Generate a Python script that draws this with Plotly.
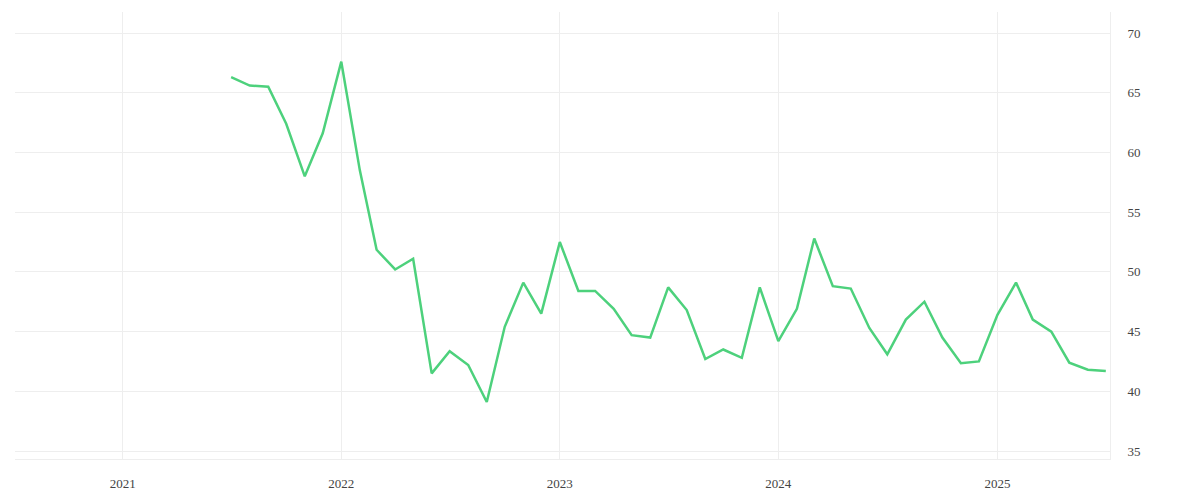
import plotly.graph_objects as go
import pandas as pd

dates = pd.date_range("2021-07-01", "2025-07-01", freq="MS").strftime("%Y-%m-%d").tolist()
values = [
    66.3, 65.6, 65.5, 62.4, 58.0, 61.6,
    67.6, 58.5, 51.85, 50.2, 51.1, 41.5, 43.35, 42.2, 39.1, 45.4, 49.1, 46.5,
    52.5, 48.4, 48.4, 46.9, 44.7, 44.5, 48.7, 46.8, 42.7, 43.5, 42.8, 48.7,
    44.2, 46.9, 52.8, 48.8, 48.6, 45.3, 43.1, 46.0, 47.5, 44.5, 42.35, 42.5,
    46.4, 49.1, 46.0, 45.0, 42.4, 41.8, 41.7,
]
x_range = ["2020-07-05", "2025-07-08"]
y_range = [34.33, 71.76]
y_ticks = [35, 40, 45, 50, 55, 60, 65, 70]
x_ticks = ["2021-01-01", "2022-01-01", "2023-01-01", "2024-01-01", "2025-01-01"]
x_tick_labels = ["2021", "2022", "2023", "2024", "2025"]

fig = go.Figure()
fig.add_trace(go.Scatter(
    x=dates, y=values, mode="lines",
    line=dict(color="#4dd17c", width=2.5),
    hoverinfo="x+y", showlegend=False,
))

fig.update_layout(
    width=1200, height=500,
    margin=dict(l=7, r=98, t=4, b=49),
    paper_bgcolor="white", plot_bgcolor="white",
    font=dict(family="Liberation Serif", size=13, color="#444"),
)
fig.update_xaxes(
    type="date", range=x_range,
    tickvals=x_ticks, ticktext=x_tick_labels,
    showgrid=True, gridcolor="#eeeeee", gridwidth=1,
    showline=True, linecolor="#eeeeee", linewidth=1,
    ticks="", ticklabelstandoff=12, zeroline=False,
)
fig.update_yaxes(
    side="right", range=y_range, tickvals=y_ticks,
    showgrid=True, gridcolor="#eeeeee", gridwidth=1,
    showline=True, linecolor="#eeeeee", linewidth=1,
    ticks="", ticklabelstandoff=14, zeroline=False,
)

fig.write_html("out.html")
